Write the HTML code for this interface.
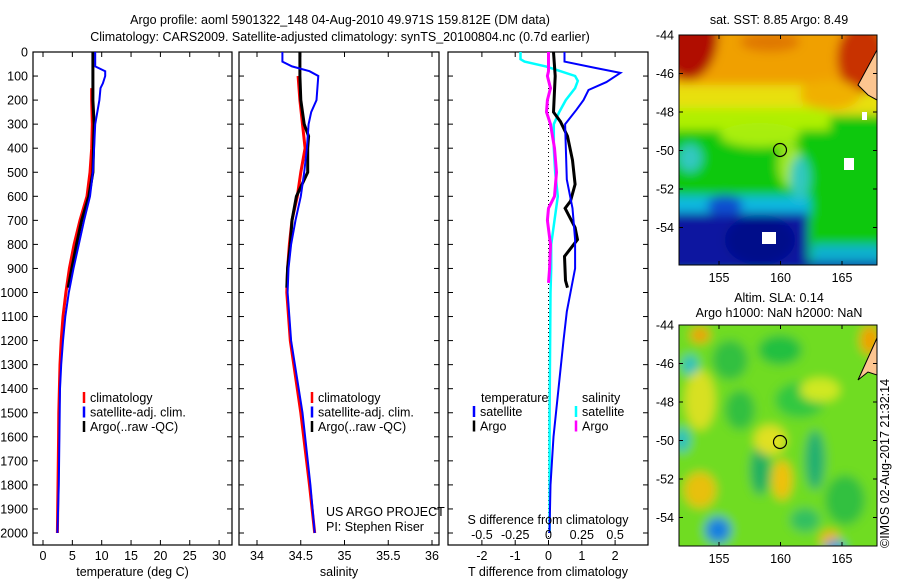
<!DOCTYPE html>
<html><head><meta charset="utf-8"><style>
html,body{margin:0;padding:0;background:#fff}
svg{display:block;font-family:"Liberation Sans",sans-serif;font-size:12.5px}
</style></head><body>
<svg id="fig" width="900" height="580" viewBox="0 0 900 580" xmlns="http://www.w3.org/2000/svg">
<text x="340" y="24" text-anchor="middle">Argo profile: aoml 5901322_148 04-Aug-2010 49.971S 159.812E (DM data)</text>
<text x="340" y="41" text-anchor="middle">Climatology: CARS2009. Satellite-adjusted climatology: synTS_20100804.nc (0.7d earlier)</text>
<g id="p1"></g>
<g id="p2"></g>
<g id="p3"></g>
<g id="m1"></g>
<g id="m2"></g>
<text transform="translate(889,548) rotate(-90)" font-size="12.5">©IMOS 02-Aug-2017 21:32:14</text>
</svg>
<script>
// ---- data ----
const depthTicks=[0,100,200,300,400,500,600,700,800,900,1000,1100,1200,1300,1400,1500,1600,1700,1800,1900,2000];
const tTicks=[0,5,10,15,20,25,30];
const sTicks=[34,34.5,35,35.5,36];
const dTicks=[-2,-1,0,1,2];
const dsTicks=[-0.5,-0.25,0,0.25,0.5];
const climTDepth=[150,200,300,400,500,600,700,800,900,1000,1100,1200,1300,1400,1500,1600,1800,2000];
const climTVal=[8.3,8.3,8.4,8.3,8.0,7.5,6.3,5.3,4.5,3.9,3.4,3.1,2.9,2.8,2.7,2.65,2.55,2.45];
const satTDepth=[0,60,80,100,130,150,200,300,400,500,600,700,800,900,1000,1100,1200,1300,1400,1600,1800,2000];
const satTVal=[8.9,8.9,10.6,10.6,10.2,9.8,9.6,8.9,8.7,8.5,8.0,7.0,6.1,5.2,4.4,3.8,3.4,3.1,2.9,2.8,2.7,2.45];
const argoTDepth=[0,100,200,300,400,500,600,700,800,900,980];
const argoTVal=[8.5,8.5,8.5,8.7,8.6,8.5,7.8,6.6,5.7,4.9,4.3];
const climSDepth=[100,200,300,400,500,600,700,800,900,1000,1200,1500,1800,2000];
const climSVal=[34.47,34.49,34.52,34.55,34.50,34.46,34.40,34.37,34.35,34.34,34.38,34.50,34.60,34.66];
const satSDepth=[0,40,60,80,100,200,250,300,400,500,600,700,800,900,1000,1200,1500,1800,2000];
const satSVal=[34.29,34.29,34.40,34.60,34.70,34.68,34.62,34.59,34.57,34.54,34.50,34.44,34.39,34.36,34.35,34.39,34.52,34.61,34.66];
const argoSDepth=[0,100,200,300,350,400,500,600,700,800,900,980];
const argoSVal=[34.49,34.49,34.50,34.54,34.59,34.58,34.58,34.45,34.40,34.38,34.35,34.34];
const dSatTDepth=[0,40,66,87,125,158,200,240,300,530,650,780,900,1080,1200,1400,1600,1800,2000];
const dSatTVal=[0.48,0.48,1.4,2.16,1.74,1.2,1.05,0.84,0.5,0.55,0.72,0.8,0.8,0.55,0.45,0.3,0.15,0.06,0.03];
const dArgoTDepth=[0,100,250,290,350,450,550,620,650,730,780,850,950,980];
const dArgoTVal=[0.15,0.2,0.15,0.36,0.57,0.72,0.8,0.66,0.5,0.8,0.87,0.48,0.51,0.57];
const dSatSDepth=[0,30,40,60,80,100,120,150,200,250,300,400,500,600,700,800,900,1000,1500,2000];
const dSatSVal=[-0.21,-0.21,-0.18,-0.02,0.09,0.2,0.22,0.2,0.13,0.08,0.04,0.04,0.05,0.07,0.045,0.02,0.02,0.015,0.008,0.008];
const dArgoSDepth=[0,80,100,150,200,250,300,400,500,600,650,700,800,900,960];
const dArgoSVal=[0,0,-0.008,0.015,-0.008,-0.015,0.015,0.045,0.06,0.045,0,-0.008,0.015,0.008,0];

// ---- helpers ----
const NS='http://www.w3.org/2000/svg';
function mk(parent,tag,attrs){const e=document.createElementNS(NS,tag);for(const k in attrs)e.setAttribute(k,attrs[k]);parent.appendChild(e);return e;}
const Y0=52,PX100=24.05,BOT=545;
const yOf=d=>Y0+d*PX100/100;

function panel(g,left,right,xf,ticks,fmt,xlabel,showDepth){
  const r=mk(g,'rect',{x:left,y:Y0,width:right-left,height:BOT-Y0,fill:'#fff',stroke:'#000','stroke-width':1.2});
  
  
  depthTicks.forEach(d=>{
    const y=yOf(d);
    mk(g,'line',{x1:left,x2:left+5,y1:y,y2:y,stroke:'#000'});
    mk(g,'line',{x1:right-5,x2:right,y1:y,y2:y,stroke:'#000'});
    if(showDepth){const t=mk(g,'text',{x:left-5,y:y+4.5,'text-anchor':'end'});t.textContent=d;
      
      }
  });
  ticks.forEach(v=>{
    const x=xf(v);
    mk(g,'line',{x1:x,x2:x,y1:BOT,y2:BOT-5,stroke:'#000'});
    mk(g,'line',{x1:x,x2:x,y1:Y0,y2:Y0+5,stroke:'#000'});
    const t=mk(g,'text',{x:x,y:560,'text-anchor':'middle'});t.textContent=fmt(v);
    
    
  });
  const t=mk(g,'text',{x:(left+right)/2,y:576,'text-anchor':'middle'});t.textContent=xlabel;
  
  
}
function series(g,xf,depths,vals,color,w,name){
  let pts=depths.map((d,i)=>xf(vals[i]).toFixed(1)+','+yOf(d).toFixed(1)).join(' ');
  const p=mk(g,'polyline',{points:pts,fill:'none',stroke:color,'stroke-width':w,'stroke-linejoin':'miter'});
  
  
}
function legend(g,x,y,items){
  items.forEach((it,i)=>{
    mk(g,'line',{x1:x,x2:x,y1:y+i*14.5-10,y2:y+i*14.5+1,stroke:it[1],'stroke-width':2.5});
    const t=mk(g,'text',{x:x+6,y:y+i*14.5});t.textContent=it[0];
    
    
  });
}
function txt(g,x,y,s,anchor,name){const t=mk(g,'text',{x:x,y:y,'text-anchor':anchor||'start'});t.textContent=s;
  
  return t;}

// ---- panel 1 temperature ----
const p1=document.getElementById('p1');
const xT=v=>43+v*5.87;
panel(p1,33,232,xT,tTicks,v=>v,'temperature (deg C)',true);
series(p1,xT,climTDepth,climTVal,'#ff0000',3,'climatology-temperature-line');
series(p1,xT,argoTDepth,argoTVal,'#000',3,'argo-temperature-line');
series(p1,xT,satTDepth,satTVal,'#0000ff',2,'satellite-temperature-line');
legend(p1,84,402,[['climatology','#ff0000'],['satellite-adj. clim.','#0000ff'],['Argo(..raw -QC)','#000']]);

// ---- panel 2 salinity ----
const p2=document.getElementById('p2');
const xS=v=>257+(v-34)*87.5;
panel(p2,239,439,xS,sTicks,v=>v,'salinity',false);
series(p2,xS,climSDepth,climSVal,'#ff0000',3,'climatology-salinity-line');
series(p2,xS,argoSDepth,argoSVal,'#000',3,'argo-salinity-line');
series(p2,xS,satSDepth,satSVal,'#0000ff',2,'satellite-salinity-line');
legend(p2,312,402,[['climatology','#ff0000'],['satellite-adj. clim.','#0000ff'],['Argo(..raw -QC)','#000']]);
txt(p2,326,516,'US ARGO PROJECT','start','project-label');
txt(p2,326,531,'PI: Stephen Riser','start','pi-label');

// ---- panel 3 differences ----
const p3=document.getElementById('p3');
const xD=v=>548.5+v*33.3;
const xDS=v=>548.5+v*133.2;
panel(p3,448,648,xD,dTicks,v=>v,'T difference from climatology',false);
mk(p3,'line',{x1:548.5,x2:548.5,y1:Y0,y2:BOT,stroke:'#000','stroke-dasharray':'1,3'});
series(p3,xDS,dSatSDepth,dSatSVal,'#00ffff',2.5,'satellite-salinity-diff-line');
series(p3,xDS,dArgoSDepth,dArgoSVal,'#ff00ff',3,'argo-salinity-diff-line');
series(p3,xD,dArgoTDepth,dArgoTVal,'#000',3,'argo-temperature-diff-line');
series(p3,xD,dSatTDepth,dSatTVal,'#0000ff',2,'satellite-temperature-diff-line');
txt(p3,481,402,'temperature','start','legend-temperature-header');
txt(p3,582,402,'salinity','start','legend-salinity-header');
legend(p3,474,416,[['satellite','#0000ff'],['Argo','#000']]);
legend(p3,576,416,[['satellite','#00ffff'],['Argo','#ff00ff']]);
txt(p3,548,524,'S difference from climatology','middle','s-diff-axis-title');
dsTicks.forEach(v=>txt(p3,xDS(v),539,v,'middle','s-diff-tick-label'));

// ---- maps ----
function mapFrame(g,top,bot,clipId,shapes,circleY,land){
  const L=679,R=877;
  const defs=mk(g,'defs',{});
  const cp=mk(defs,'clipPath',{id:clipId});mk(cp,'rect',{x:L,y:top,width:R-L,height:bot-top});
  const f=mk(defs,'filter',{id:clipId+'b',filterUnits:'userSpaceOnUse',x:600,y:0,width:300,height:580});
  mk(f,'feGaussianBlur',{stdDeviation:5});
  const cg=mk(g,'g',{'clip-path':'url(#'+clipId+')'});
  const bg=mk(cg,'g',{filter:'url(#'+clipId+'b)'});
  shapes.forEach(s=>{ if(s[0]==='r')mk(bg,'rect',{x:s[1],y:s[2],width:s[3],height:s[4],fill:s[5]});
    else mk(bg,'ellipse',{cx:s[1],cy:s[2],rx:s[3],ry:s[4],fill:s[5]});});
  if(land)mk(cg,'polygon',{points:land,fill:'#fcc590',stroke:'#000','stroke-width':1});
  const c=mk(g,'circle',{cx:780,cy:circleY,r:6.5,fill:'none',stroke:'#000','stroke-width':1.2});
  
  
  mk(g,'rect',{x:L,y:top,width:R-L,height:bot-top,fill:'none',stroke:'#000','stroke-width':1});
  const pxDeg=19.25;
  [-44,-46,-48,-50,-52,-54].forEach((lat,i)=>{
    const y=top+i*2*pxDeg;
    mk(g,'line',{x1:L,x2:L+4,y1:y,y2:y,stroke:'#000'});
    mk(g,'line',{x1:R-4,x2:R,y1:y,y2:y,stroke:'#000'});
    txt(g,674,y+4.5,lat,'end','map-lat-label');
  });
  [155,160,165].forEach(lon=>{
    const x=719+(lon-155)*12.3;
    mk(g,'line',{x1:x,x2:x,y1:top,y2:top+4,stroke:'#000'});
    mk(g,'line',{x1:x,x2:x,y1:bot-4,y2:bot,stroke:'#000'});
    txt(g,x,bot+17,lon,'middle','map-lon-label');
  });
}
const m1=document.getElementById('m1');
txt(m1,779,24,'sat. SST: 8.85 Argo: 8.49','middle','sst-map-title');
mapFrame(m1,35,265,'c1',[
 ['r',660,20,240,260,'#10c810'],
 ['r',660,20,240,90,'#f0a000'],
 ['r',660,85,240,30,'#e8e010'],
 ['r',660,108,170,22,'#b0f000'],
 ['ellipse',760,135,40,12,'#a8ee10'],
 ['ellipse',790,165,12,22,'#a0e820'],
 ['ellipse',688,35,30,45,'#b01000'],
 ['ellipse',770,42,30,10,'#e07800'],
 ['ellipse',862,58,25,35,'#c83000'],
 ['ellipse',830,95,30,15,'#f0b000'],
 ['r',660,196,150,20,'#10b8e0'],
 ['ellipse',800,178,10,22,'#30c8c0'],
 ['ellipse',690,158,12,14,'#30c8c0'],
 ['r',660,213,148,60,'#0818a0'],
 ['ellipse',760,240,35,25,'#00108a'],
 ['ellipse',725,205,18,10,'#1050d0'],
 ['r',812,245,70,30,'#10b0d0'],
 ['r',805,262,80,10,'#0818a0']
],150,'858,85 877,50 877,100 868,95');
mk(m1,'rect',{x:762,y:232,width:14,height:12,fill:'#fff'});
mk(m1,'rect',{x:844,y:158,width:10,height:12,fill:'#fff'});
mk(m1,'rect',{x:862,y:112,width:5,height:8,fill:'#fff'});

const m2=document.getElementById('m2');
txt(m2,779,302,'Altim. SLA: 0.14','middle','sla-map-title');
txt(m2,779,317,'Argo h1000: NaN h2000: NaN','middle','sla-map-subtitle');
mapFrame(m2,325,546,'c2',[
 ['r',660,310,240,250,'#70dc20'],
 ['ellipse',730,360,18,20,'#30c040'],
 ['ellipse',780,350,22,15,'#20c040'],
 ['ellipse',740,410,15,20,'#30c040'],
 ['ellipse',800,400,25,18,'#30c840'],
 ['ellipse',760,470,10,25,'#20b060'],
 ['ellipse',815,460,10,30,'#20b070'],
 ['ellipse',805,520,15,12,'#30c060'],
 ['ellipse',845,500,20,25,'#30c040'],
 ['ellipse',700,400,15,30,'#d8e020'],
 ['ellipse',700,490,16,18,'#e8c010'],
 ['ellipse',782,480,10,20,'#f0c010'],
 ['ellipse',770,440,16,15,'#e0e020'],
 ['ellipse',820,390,20,12,'#d0e820'],
 ['ellipse',700,335,10,8,'#f0a000'],
 ['ellipse',830,540,10,10,'#f0b000'],
 ['ellipse',690,365,8,10,'#20c0c0'],
 ['ellipse',682,440,8,12,'#20c0c0'],
 ['ellipse',718,530,13,13,'#1880e0'],
 ['ellipse',835,548,10,8,'#20a0e0'],
 ['ellipse',870,340,10,15,'#f0a000']
],442,'858,380 877,338 877,375 868,372');
</script>
</body></html>
